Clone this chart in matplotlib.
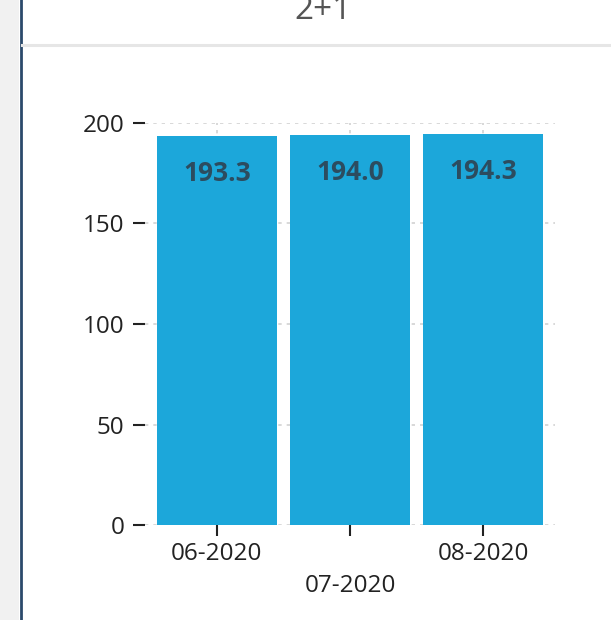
import matplotlib
matplotlib.use("Agg")
import matplotlib.pyplot as plt
from matplotlib.patches import Rectangle
from matplotlib.lines import Line2D

plt.rcParams['font.family'] = ['Open Sans', 'DejaVu Sans']

# données
title = "2+1"
months = ["06-2020", "07-2020", "08-2020"]
values = [193.3, 194.0, 194.3]
y_ticks = [0, 50, 100, 150, 200]

W, H = 611, 620
fig = plt.figure(figsize=(W / 100, H / 100), dpi=100)


def fx(px):
    return px / W


def fy(py):
    return 1 - py / H


# bandeau gauche et séparateurs de la carte
fig.patches.append(Rectangle((0, 0), fx(19), 1, transform=fig.transFigure,
                             facecolor='#f1f1f1', edgecolor='none'))
fig.lines.append(Line2D([fx(20.5), fx(20.5)], [0, 1], transform=fig.transFigure,
                        color='#2b4a6b', linewidth=2))
fig.lines.append(Line2D([fx(22), 1], [fy(45), fy(45)], transform=fig.transFigure,
                        color='#e6e6e6', linewidth=2.2))
fig.text(fx(323), fy(19), title, ha='center', va='baseline',
         fontsize=24, color='#555555')

# zone du graphique
ax = fig.add_axes([fx(145), fy(525), fx(555) - fx(145), fy(123) - fy(525)])
x = list(range(len(months)))
bars = ax.bar(x, values, width=0.9, color='#1ca7da', zorder=2)

for xi, v in zip(x, values):
    ax.annotate(f"{v:.1f}", (xi, v), xytext=(0, -27), textcoords='offset points',
                ha='center', va='center', fontsize=19, fontweight='bold',
                color='#2c4c5f', zorder=3)

ax.set_xlim(-0.54, 2.54)
ax.set_ylim(0, 200)
ax.set_yticks(y_ticks)
ax.set_yticklabels([str(t) for t in y_ticks])
ax.set_xticks(x)
ax.set_xticklabels([("\n" + m) if i % 2 else m for i, m in enumerate(months)],
                   linespacing=1.45)

for s in ax.spines.values():
    s.set_visible(False)

ax.grid(True, color='#d2d2d2', linestyle=(0, (2, 3)), linewidth=1.2, zorder=0)
ax.set_axisbelow(True)

ax.tick_params(axis='y', length=9, width=1.5, pad=6, labelsize=17.5,
               color='#222222', labelcolor='#222222')
ax.tick_params(axis='x', length=8, width=1.5, pad=4, labelsize=17.5,
               color='#222222', labelcolor='#222222')

fig.savefig("out.png", dpi=100)
